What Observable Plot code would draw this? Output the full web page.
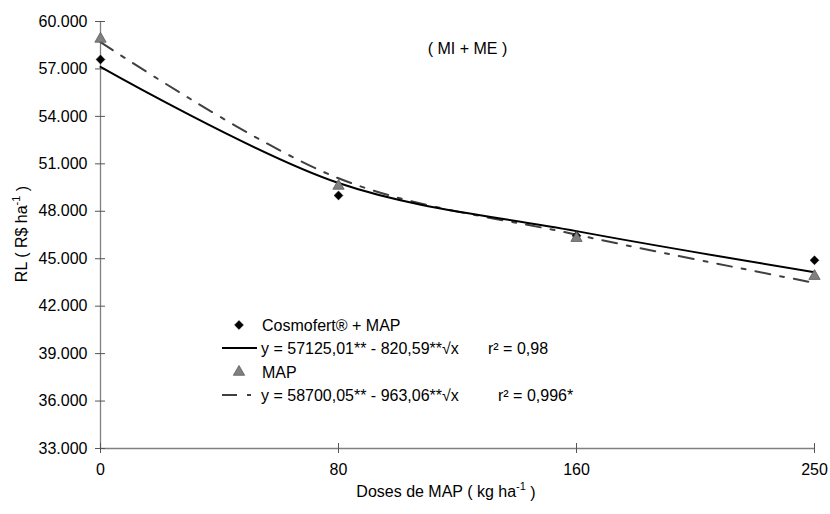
<!DOCTYPE html>
<html><head><meta charset="utf-8">
<script src="https://cdn.jsdelivr.net/npm/d3@7"></script>
<script src="https://cdn.jsdelivr.net/npm/@observablehq/plot@0.6"></script>
<style>
html,body{margin:0;padding:0;background:#fff;}
#chart svg{display:block;}
</style></head><body><div id="chart"></div>
<script>
// Data
const doses = ["0", "80", "160", "250"];
const cosmofertObs = [57600, 49000, 46450, 44900];
const mapObs = [58900, 49600, 46300, 43900];
const cosmofertFit = [57125, 49785, 46745, 44150];
const mapFit = [58700, 50086, 46518, 43473];
const yTicks = [33000, 36000, 39000, 42000, 45000, 48000, 51000, 54000, 57000, 60000];
const seriesNames = ["Cosmofert® + MAP", "MAP"];
const equations = ["y = 57125,01** - 820,59**√x", "y = 58700,05** - 963,06**√x"];
const r2Labels = ["r² = 0,98", "r² = 0,996*"];
const panelLabel = "( MI + ME )";
const yLabel = ["RL ( R$ ha", "-1", " )"];
const xLabel = ["Doses de MAP ( kg ha", "-1", " )"];

const toRows = (vals) => doses.map((d, i) => ({dose: d, value: vals[i]}));
const obsC = toRows(cosmofertObs), obsM = toRows(mapObs);
const fitC = toRows(cosmofertFit), fitM = toRows(mapFit);
const fmt = d => d3.format(",")(d).replace(/,/g, ".");

const FONT = "'Liberation Sans', Arial, sans-serif";
const DASH = "15,10,4,10";
const R_DIAMOND = 4, R_TRI = 4.2;

const svg = Plot.plot({
  width: 830, height: 514,
  marginLeft: 100, marginRight: 16, marginTop: 21, marginBottom: 66,
  style: {fontFamily: FONT, fontSize: "16px", color: "#000", background: "#fff"},
  x: {type: "point", domain: doses, padding: 0},
  y: {domain: [33000, 60000]},
  marks: [
    Plot.ruleX([doses[0]], {stroke: "#808080", strokeWidth: 1.3}),
    Plot.ruleY([33000], {stroke: "#808080", strokeWidth: 1.3}),
    Plot.axisY({ticks: yTicks, tickSize: 10, dx: 5, fill: "none", stroke: "#555", label: null}),
    Plot.axisY({ticks: yTicks, tickSize: 0, tickPadding: 13, tickFormat: fmt, fill: "#000", label: null}),
    Plot.axisX({tickSize: 10, dy: -5, fill: "none", stroke: "#555", label: null}),
    Plot.axisX({tickSize: 0, tickPadding: 15, fill: "#000", label: null}),
    Plot.line(fitM, {x: "dose", y: "value", curve: "catmull-rom", stroke: "#404040", strokeWidth: 2, strokeDasharray: DASH}),
    Plot.line(fitC, {x: "dose", y: "value", curve: "catmull-rom", stroke: "#000", strokeWidth: 2}),
    Plot.dot(obsC, {x: "dose", y: "value", symbol: "diamond2", fill: "#000", stroke: "#000", strokeWidth: 0.5, r: R_DIAMOND}),
    Plot.dot(obsM, {x: "dose", y: "value", symbol: "triangle", fill: "#808080", stroke: "#5a5a5a", strokeWidth: 0.8, r: R_TRI}),
    Plot.text([panelLabel], {frameAnchor: "top", dx: 10, dy: 21, fontSize: 16, fill: "#000"})
  ]
});
document.getElementById("chart").appendChild(svg);

const s = d3.select(svg);
// axis titles with superscripts
function supText(g, parts) {
  g.append("tspan").text(parts[0]);
  g.append("tspan").attr("font-size", "11px").attr("dy", "-0.6em").text(parts[1]);
  g.append("tspan").attr("dy", "0.45em").text(parts[2]);
}
const xl = s.append("text").attr("x", 446).attr("y", 497).attr("text-anchor", "middle")
  .attr("font-family", FONT).attr("font-size", "16px").attr("fill", "#000");
supText(xl, xLabel);
const yl = s.append("text").attr("transform", "translate(27,234) rotate(-90)").attr("text-anchor", "middle")
  .attr("font-family", FONT).attr("font-size", "16px").attr("fill", "#000");
supText(yl, yLabel);

// legend
const lg = s.append("g").attr("font-family", FONT).attr("font-size", "16px").attr("fill", "#000")
  .attr("text-anchor", "start");
const rowY = [325, 348, 372, 395];
lg.append("path").attr("transform", `translate(239,${rowY[0]})`)
  .attr("d", d3.symbol(d3.symbolDiamond2, Math.PI * R_DIAMOND * R_DIAMOND)())
  .attr("fill", "#000").attr("stroke", "#000").attr("stroke-width", 0.5);
lg.append("text").attr("x", 262).attr("y", rowY[0]).attr("dy", "0.35em").text(seriesNames[0]);
lg.append("line").attr("x1", 222).attr("x2", 257).attr("y1", rowY[1]).attr("y2", rowY[1])
  .attr("stroke", "#000").attr("stroke-width", 2);
lg.append("text").attr("x", 261).attr("y", rowY[1]).attr("dy", "0.35em").text(equations[0]);
lg.append("text").attr("x", 488).attr("y", rowY[1]).attr("dy", "0.35em").text(r2Labels[0]);
lg.append("path").attr("transform", `translate(239,${rowY[2]})`)
  .attr("d", d3.symbol(d3.symbolTriangle, Math.PI * R_TRI * R_TRI)())
  .attr("fill", "#808080").attr("stroke", "#5a5a5a").attr("stroke-width", 0.8);
lg.append("text").attr("x", 262).attr("y", rowY[2]).attr("dy", "0.35em").text(seriesNames[1]);
lg.append("line").attr("x1", 222).attr("x2", 252).attr("y1", rowY[3]).attr("y2", rowY[3])
  .attr("stroke", "#404040").attr("stroke-width", 2).attr("stroke-dasharray", DASH);
lg.append("text").attr("x", 261).attr("y", rowY[3]).attr("dy", "0.35em").text(equations[1]);
lg.append("text").attr("x", 498).attr("y", rowY[3]).attr("dy", "0.35em").text(r2Labels[1]);
</script></body></html>
